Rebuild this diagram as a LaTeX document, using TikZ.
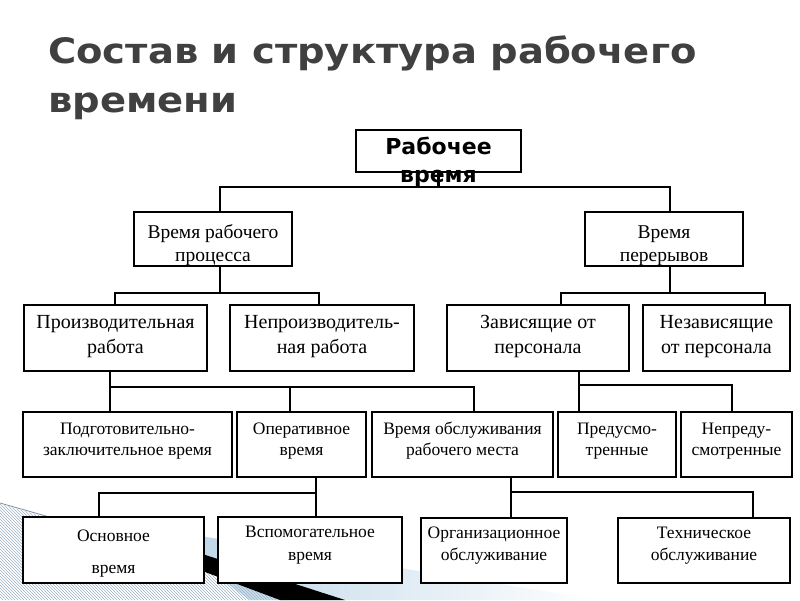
\documentclass[tikz,border=0pt]{standalone}
\usepackage{fontspec}
\setmainfont{Liberation Serif}
\newfontfamily\dejavu{DejaVu Sans}
\newfontfamily\dejavuwide[FakeStretch=1.1]{DejaVu Sans}
\usetikzlibrary{patterns}
\definecolor{titlegray}{HTML}{404040}
\definecolor{hatchblue}{HTML}{9FB3C8}
\definecolor{bandblue}{HTML}{B9D3E6}
\tikzset{
  bx/.style={draw=black, fill=white, line width=1.1pt, inner sep=0pt},
  conn/.style={draw=black, line width=2.5pt, line cap=rect},
  tA/.style={align=center, inner sep=0pt, font=\fontsize{19.5}{23}\selectfont},
  tB/.style={align=center, inner sep=0pt, font=\fontsize{20}{25}\selectfont},
  tC/.style={align=center, inner sep=0pt, font=\fontsize{17.5}{21}\selectfont},
  tD/.style={align=center, inner sep=0pt, font=\fontsize{17.5}{22.5}\selectfont},
  ttl/.style={anchor=base west, inner sep=0pt, text=titlegray, font=\dejavuwide\bfseries\fontsize{35}{40}\selectfont},
}
\begin{document}
\begin{tikzpicture}[x=1pt,y=-1pt]
\useasboundingbox (0,0) rectangle (800,600);
\fill[white] (0,0) rectangle (800,600);
% decoration bottom-left
\shade[left color=bandblue, right color=white] (150,528) -- (600,600) -- (250,600) -- cycle;
\fill[pattern=north west lines, pattern color=hatchblue] (0,504) -- (215,566) -- (285,600) -- (0,600) -- cycle;
\draw[hatchblue!80!black, line width=0.8pt] (0,503) -- (60,520);
\fill[black] (165,542) -- (345,600) -- (280,600) -- (165,557) -- cycle;
% title
\node[ttl] (title1) at (48,63) {Состав и структура рабочего};
\node[ttl] (title2) at (48,112) {времени};
% coordinates of buses
\coordinate (k1) at (220,187); \coordinate (k2) at (670,187);
\coordinate (L1) at (115,293); \coordinate (L2) at (319,293);
\coordinate (R1) at (561,293); \coordinate (R2) at (765,293);
\coordinate (P1) at (110,387); \coordinate (P2) at (290,387); \coordinate (P3) at (474,387);
\coordinate (Q1) at (579,385); \coordinate (Q2) at (732,385);
\coordinate (S1) at (99,493); \coordinate (S2) at (316,493);
\coordinate (T1) at (511,492); \coordinate (T2) at (753,492);
% boxes
\node[bx, minimum width=165pt, minimum height=42pt] (root) at (438.5,151) {};
\node[bx, minimum width=158pt, minimum height=54pt] (b1) at (213,239) {};
\node[bx, minimum width=158pt, minimum height=54pt] (b2) at (664,239) {};
\node[bx, minimum width=183pt, minimum height=66pt] (c1) at (115.5,338) {};
\node[bx, minimum width=184pt, minimum height=66pt] (c2) at (322,338) {};
\node[bx, minimum width=182pt, minimum height=66pt] (c3) at (538,338) {};
\node[bx, minimum width=147pt, minimum height=66pt] (c4) at (716.5,338) {};
\node[bx, minimum width=209pt, minimum height=65pt] (d1) at (127.5,444.5) {};
\node[bx, minimum width=129pt, minimum height=65pt] (d2) at (301.5,444.5) {};
\node[bx, minimum width=181pt, minimum height=65pt] (d3) at (462.5,444.5) {};
\node[bx, minimum width=118pt, minimum height=65pt] (d4) at (617,444.5) {};
\node[bx, minimum width=111pt, minimum height=65pt] (d5) at (736.5,444.5) {};
\node[bx, minimum width=181pt, minimum height=66pt] (e1) at (113.5,550) {};
\node[bx, minimum width=184pt, minimum height=66pt] (e2) at (310,550) {};
\node[bx, minimum width=146pt, minimum height=65pt] (e3) at (494,550.5) {};
\node[bx, minimum width=172pt, minimum height=65pt] (e4) at (704,550.5) {};
% connectors
\draw[conn] (root.south) -- (root.south |- k1);
\draw[conn] (k1) -- (k2);
\draw[conn] (k1) -- (k1 |- b1.north);
\draw[conn] (k2) -- (k2 |- b2.north);
\draw[conn] (k1 |- b1.south) -- (k1 |- L1);
\draw[conn] (L1) -- (L2);
\draw[conn] (L1) -- (L1 |- c1.north);
\draw[conn] (L2) -- (L2 |- c2.north);
\draw[conn] (k2 |- b2.south) -- (k2 |- R1);
\draw[conn] (R1) -- (R2);
\draw[conn] (R1) -- (R1 |- c3.north);
\draw[conn] (R2) -- (R2 |- c4.north);
\draw[conn] (P1 |- c1.south) -- (P1);
\draw[conn] (P1) -- (P3);
\draw[conn] (P1) -- (P1 |- d1.north);
\draw[conn] (P2) -- (P2 |- d2.north);
\draw[conn] (P3) -- (P3 |- d3.north);
\draw[conn] (Q1 |- c3.south) -- (Q1);
\draw[conn] (Q1) -- (Q2);
\draw[conn] (Q1) -- (Q1 |- d4.north);
\draw[conn] (Q2) -- (Q2 |- d5.north);
\draw[conn] (S2 |- d2.south) -- (S2);
\draw[conn] (S1) -- (S2);
\draw[conn] (S1) -- (S1 |- e1.north);
\draw[conn] (S2) -- (S2 |- e2.north);
\draw[conn] (T1 |- d3.south) -- (T1);
\draw[conn] (T1) -- (T2);
\draw[conn] (T1) -- (T1 |- e3.north);
\draw[conn] (T2) -- (T2 |- e4.north);
% texts
\node[align=center, inner sep=0pt, font=\dejavu\bfseries\fontsize{22}{28}\selectfont] (roott) at (438.5,163) {\strut Рабочее\\\strut время};
\node[tA] (b1t) at (213,245) {\strut Время рабочего\\\strut процесса};
\node[tA] (b2t) at (664,245) {\strut Время\\\strut перерывов};
\node[tB] (c1t) at (115.5,336) {\strut Производительная\\\strut работа};
\node[tB] (c2t) at (322,336) {\strut Непроизводитель-\\\strut ная работа};
\node[tB] (c3t) at (538,336) {\strut Зависящие от\\\strut персонала};
\node[tB] (c4t) at (716.5,336) {\strut Независящие\\\strut от персонала};
\node[tC] (d1t) at (127.5,440.5) {\strut Подготовительно-\\\strut заключительное время};
\node[tC] (d2t) at (301.5,440.5) {\strut Оперативное\\\strut время};
\node[tC] (d3t) at (462.5,440.5) {\strut Время обслуживания\\\strut рабочего места};
\node[tC] (d4t) at (617,440.5) {\strut Предусмо-\\\strut тренные};
\node[tC] (d5t) at (736.5,440.5) {\strut Непреду-\\\strut смотренные};
\node[tD, font=\fontsize{17.5}{32}\selectfont] (e1t) at (113.5,551) {\strut Основное\\\strut время};
\node[tD] (e2t) at (310,544.5) {\strut Вспомогательное\\\strut время};
\node[tD] (e3t) at (494,545) {\strut Организационное\\\strut обслуживание};
\node[tD] (e4t) at (704,545) {\strut Техническое\\\strut обслуживание};
\end{tikzpicture}
\end{document}
